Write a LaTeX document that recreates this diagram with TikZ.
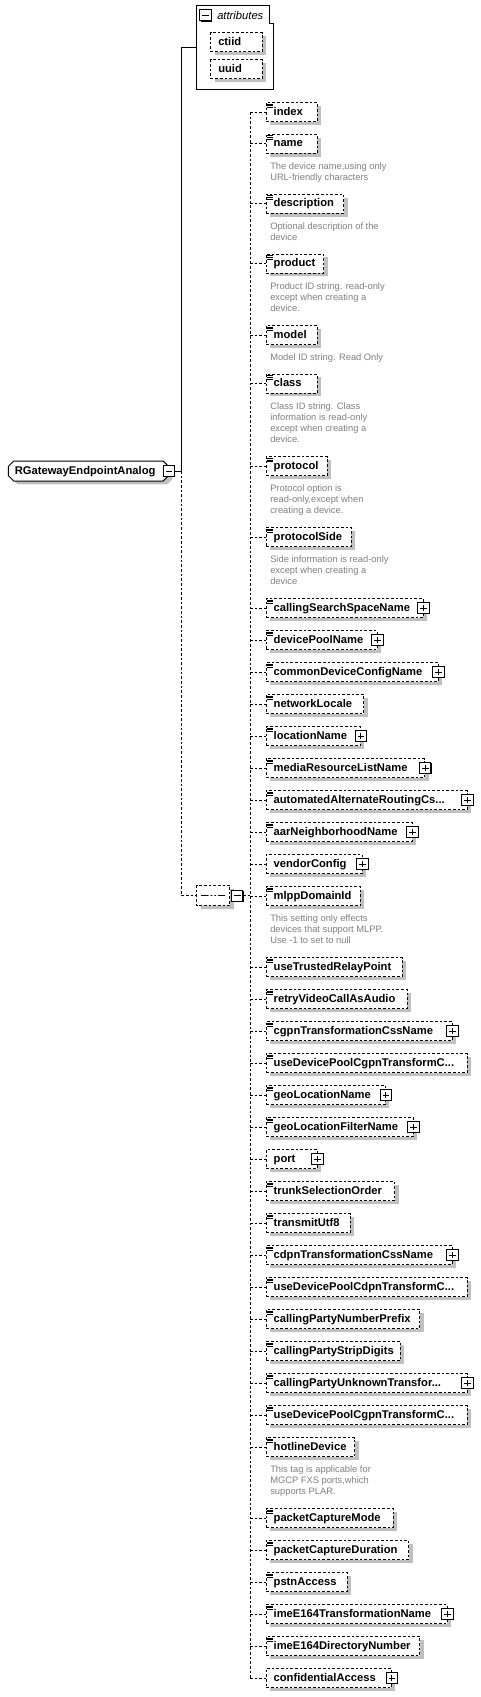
\documentclass[tikz,border=0pt]{standalone}
\usepackage{fontspec}
\setmainfont{Liberation Sans}
\usetikzlibrary{positioning, shapes.misc, shadows}
\definecolor{shadowgray}{RGB}{192,192,192}
\definecolor{docgray}{RGB}{128,128,128}
\newcommand{\elemfont}{\fontsize{8.4pt}{10pt}\selectfont\bfseries\hyphenpenalty=10000\relax}
\newcommand{\docfont}{\fontsize{7pt}{8.25pt}\selectfont}

\tikzset{
  elem/.style={draw, dash pattern=on 2pt off 1.5pt, line width=0.75pt, fill=white, anchor=west,
    minimum height=14.25pt, text width=(#1-15)*0.75pt, inner xsep=5.6pt, inner ysep=0pt,
    align=left, font=\elemfont, text height=6.2pt, text depth=1.6pt,
    general shadow={fill=shadowgray, shadow xshift=3pt, shadow yshift=-2.6pt}},
  typed/.style={path picture={
    \draw[solid, line width=0.55pt]
      ([xshift=0.8pt,yshift=-1.1pt]path picture bounding box.north west) -- ++(4.6pt,0)
      ([xshift=0.8pt,yshift=-2.4pt]path picture bounding box.north west) -- ++(4pt,0)
      ([xshift=0.8pt,yshift=-3.7pt]path picture bounding box.north west) -- ++(4pt,0);}},
  togglebox/.style={draw, solid, line width=0.75pt, fill=white, minimum size=8.5pt, inner sep=0pt,
    general shadow={fill=black, shadow xshift=0.6pt, shadow yshift=-0.6pt}},
  expander/.style={togglebox, path picture={
    \draw[line width=0.75pt]
      ([xshift=1.7pt]path picture bounding box.west) -- ([xshift=-1.7pt]path picture bounding box.east)
      ([yshift=-1.7pt]path picture bounding box.north) -- ([yshift=1.7pt]path picture bounding box.south);}},
  collapser/.style={togglebox, path picture={
    \draw[line width=0.75pt]
      ([xshift=1.7pt]path picture bounding box.west) -- ([xshift=-1.7pt]path picture bounding box.east);}},
  docnote/.style={anchor=north west, inner sep=0pt, align=left, font=\docfont, text=docgray},
  conn/.style={dash pattern=on 2pt off 1.5pt, line width=0.75pt},
  attrline/.style={line width=0.75pt},
  rootbox/.style={chamfered rectangle, chamfered rectangle xsep=2pt, chamfered rectangle ysep=2pt,
    draw, line width=0.75pt, fill=white, minimum height=15pt, text width=110.4pt,
    inner xsep=2.8pt, inner ysep=0pt, align=left, font=\elemfont, text height=6.2pt, text depth=1.6pt,
    general shadow={fill=shadowgray, shadow xshift=3pt, shadow yshift=-2.6pt}},
  seqbox/.style={chamfered rectangle, chamfered rectangle xsep=3.5pt, chamfered rectangle ysep=3.5pt,
    draw, dash pattern=on 2pt off 1.5pt, line width=0.75pt, fill=white,
    minimum width=25pt, minimum height=15pt, inner sep=0pt,
    general shadow={fill=shadowgray, shadow xshift=3pt, shadow yshift=-2.6pt},
    path picture={
      \draw[solid, line width=0.75pt] ([xshift=-9pt]path picture bounding box.center) -- ([xshift=9pt]path picture bounding box.center);
      \fill ([xshift=-2.8pt]path picture bounding box.center) circle (0.9pt)
        (path picture bounding box.center) circle (0.9pt)
        ([xshift=2.8pt]path picture bounding box.center) circle (0.9pt);}},
  grouplabel/.style={inner sep=0pt, font=\fontsize{8.4pt}{10pt}\selectfont\itshape}
}

\begin{document}
\begin{tikzpicture}[x=0.75pt, y=-0.75pt]
  \useasboundingbox (0,0) rectangle (481,1697);

  % attribute group
  \node[minimum width=57.75pt, minimum height=63pt, inner sep=0pt] (attrs) at (234.8,47.3) {};
  \draw[attrline] (attrs.south west) |- ([xshift=-3pt]attrs.north east) |- ([yshift=-13.5pt]attrs.north east) -- (attrs.south east) -- cycle;
  \node[collapser] (attrsMinus) at (205.5,15.2) {};
  \node[grouplabel, right=4pt of attrsMinus] (attrsLabel) {attributes};
  \node[elem=51.4] (ctiid) at (210.3,42) {ctiid};
  \node[elem=51.4] (uuid) at (210.3,69) {uuid};

  % root element
  \node[rootbox] (root) at (88.4,471) {RGatewayEndpointAnalog};
  \node[collapser] (rootMinus) at (root.east) {};
  \coordinate (split) at (181.3,471);

  % sequence
  \node[seqbox] (seq) at (213.3,895.7) {};
  \node[collapser, right=0.5pt of seq] (seqMinus) {};
  \coordinate (fork) at (250,895.7);

  % child elements
  \node[elem=51, typed] (index) at (265.7,112) {index};
  \node[elem=51, typed] (name) at (265.7,143.8) {name};
  \node[docnote] (nameDoc) at (270,162.2) {The device name,using only\\URL-friendly characters};
  \node[elem=77.6, typed] (description) at (265.7,203.7) {description};
  \node[docnote] (descriptionDoc) at (270,222.2) {Optional description of the\\device};
  \node[elem=57.6, typed] (product) at (265.7,263.5) {product};
  \node[docnote] (productDoc) at (270,282.5) {Product ID string. read-only\\except when creating a\\device.};
  \node[elem=51, typed] (model) at (265.7,335) {model};
  \node[docnote] (modelDoc) at (270,353.2) {Model ID string. Read Only};
  \node[elem=51, typed] (class) at (265.7,383.5) {class};
  \node[docnote] (classDoc) at (270,402.2) {Class ID string. Class\\information is read-only\\except when creating a\\device.};
  \node[elem=61, typed] (protocol) at (265.7,466.3) {protocol};
  \node[docnote] (protocolDoc) at (270,484.2) {Protocol option is\\read-only,except when\\creating a device.};
  \node[elem=85.3, typed] (protocolSide) at (265.7,537) {protocolSide};
  \node[docnote] (protocolSideDoc) at (270,555.2) {Side information is read-only\\except when creating a\\device};
  \node[elem=157, typed] (cssName) at (265.7,608) {callingSearchSpaceName};
  \node[elem=111, typed] (devicePool) at (265.7,640) {devicePoolName};
  \node[elem=172, typed] (commonConfig) at (265.7,672) {commonDeviceConfigName};
  \node[elem=97.6, typed] (netLocale) at (265.7,704) {networkLocale};
  \node[elem=94.3, typed] (location) at (265.7,736) {locationName};
  \node[elem=158.6, typed] (mrlName) at (265.7,768) {mediaResourceListName};
  \node[elem=201, typed] (aarCss) at (265.7,800) {automatedAlternateRoutingCs...};
  \node[elem=146, typed] (aarHood) at (265.7,832) {aarNeighborhoodName};
  \node[elem=96] (vendorConfig) at (265.7,864) {vendorConfig};
  \node[elem=94.3, typed] (mlpp) at (265.7,896) {mlppDomainId};
  \node[docnote] (mlppDoc) at (270,914.2) {This setting only effects\\devices that support MLPP.\\Use -1 to set to null};
  \node[elem=136, typed] (trustedRelay) at (265.7,967) {useTrustedRelayPoint};
  \node[elem=141, typed] (retryVideo) at (265.7,999) {retryVideoCallAsAudio};
  \node[elem=186, typed] (cgpnCss) at (265.7,1031) {cgpnTransformationCssName};
  \node[elem=201, typed] (useCgpnPoolA) at (265.7,1063) {useDevicePoolCgpnTransformC...};
  \node[elem=119.3, typed] (geoLoc) at (265.7,1095) {geoLocationName};
  \node[elem=147, typed] (geoFilter) at (265.7,1127) {geoLocationFilterName};
  \node[elem=51] (port) at (265.7,1159) {port};
  \node[elem=128.6, typed] (trunkOrder) at (265.7,1191) {trunkSelectionOrder};
  \node[elem=84.3, typed] (utf8) at (265.7,1223) {transmitUtf8};
  \node[elem=186, typed] (cdpnCss) at (265.7,1255) {cdpnTransformationCssName};
  \node[elem=201, typed] (useCdpnPool) at (265.7,1287) {useDevicePoolCdpnTransformC...};
  \node[elem=153.6, typed] (cgPrefix) at (265.7,1319) {callingPartyNumberPrefix};
  \node[elem=134.3, typed] (cgStrip) at (265.7,1351) {callingPartyStripDigits};
  \node[elem=201, typed] (cgUnknown) at (265.7,1383) {callingPartyUnknownTransfor...};
  \node[elem=201, typed] (useCgpnPoolB) at (265.7,1415) {useDevicePoolCgpnTransformC...};
  \node[elem=88.6, typed] (hotline) at (265.7,1447) {hotlineDevice};
  \node[docnote] (hotlineDoc) at (270,1465.5) {This tag is applicable for\\MGCP FXS ports,which\\supports PLAR.};
  \node[elem=127, typed] (captureMode) at (265.7,1518) {packetCaptureMode};
  \node[elem=142.6, typed] (captureDur) at (265.7,1550) {packetCaptureDuration};
  \node[elem=81, typed] (pstn) at (265.7,1582) {pstnAccess};
  \node[elem=181, typed] (imeTrans) at (265.7,1614) {imeE164TransformationName};
  \node[elem=153.6, typed] (imeDn) at (265.7,1646) {imeE164DirectoryNumber};
  \node[elem=125.3] (confAccess) at (265.7,1678) {confidentialAccess};

  % expand buttons
  \node[expander] (cssNamePlus) at (cssName.east) {};
  \node[expander] (devicePoolPlus) at (devicePool.east) {};
  \node[expander] (commonConfigPlus) at (commonConfig.east) {};
  \node[expander] (locationPlus) at (location.east) {};
  \node[expander] (mrlNamePlus) at (mrlName.east) {};
  \node[expander] (aarCssPlus) at (aarCss.east) {};
  \node[expander] (aarHoodPlus) at (aarHood.east) {};
  \node[expander] (vendorConfigPlus) at (vendorConfig.east) {};
  \node[expander] (cgpnCssPlus) at (cgpnCss.east) {};
  \node[expander] (geoLocPlus) at (geoLoc.east) {};
  \node[expander] (geoFilterPlus) at (geoFilter.east) {};
  \node[expander] (portPlus) at (port.east) {};
  \node[expander] (cdpnCssPlus) at (cdpnCss.east) {};
  \node[expander] (cgUnknownPlus) at (cgUnknown.east) {};
  \node[expander] (imeTransPlus) at (imeTrans.east) {};
  \node[expander] (confAccessPlus) at (confAccess.east) {};

  % connectors
  \draw[attrline] (rootMinus.east) -- (split) |- (attrs.west);
  \draw[conn] (split) |- (seq.west);
  \draw[conn] (seqMinus.east) -- (fork);
  \draw[conn] (fork |- index.west) -- (fork |- confAccess.west);
  \draw[conn] (fork |- index.west) -- (index.west) (fork |- name.west) -- (name.west)
    (fork |- description.west) -- (description.west) (fork |- product.west) -- (product.west)
    (fork |- model.west) -- (model.west) (fork |- class.west) -- (class.west)
    (fork |- protocol.west) -- (protocol.west) (fork |- protocolSide.west) -- (protocolSide.west)
    (fork |- cssName.west) -- (cssName.west) (fork |- devicePool.west) -- (devicePool.west)
    (fork |- commonConfig.west) -- (commonConfig.west) (fork |- netLocale.west) -- (netLocale.west)
    (fork |- location.west) -- (location.west) (fork |- mrlName.west) -- (mrlName.west)
    (fork |- aarCss.west) -- (aarCss.west) (fork |- aarHood.west) -- (aarHood.west)
    (fork |- vendorConfig.west) -- (vendorConfig.west) (fork |- mlpp.west) -- (mlpp.west)
    (fork |- trustedRelay.west) -- (trustedRelay.west) (fork |- retryVideo.west) -- (retryVideo.west)
    (fork |- cgpnCss.west) -- (cgpnCss.west) (fork |- useCgpnPoolA.west) -- (useCgpnPoolA.west)
    (fork |- geoLoc.west) -- (geoLoc.west) (fork |- geoFilter.west) -- (geoFilter.west)
    (fork |- port.west) -- (port.west) (fork |- trunkOrder.west) -- (trunkOrder.west)
    (fork |- utf8.west) -- (utf8.west) (fork |- cdpnCss.west) -- (cdpnCss.west)
    (fork |- useCdpnPool.west) -- (useCdpnPool.west) (fork |- cgPrefix.west) -- (cgPrefix.west)
    (fork |- cgStrip.west) -- (cgStrip.west) (fork |- cgUnknown.west) -- (cgUnknown.west)
    (fork |- useCgpnPoolB.west) -- (useCgpnPoolB.west) (fork |- hotline.west) -- (hotline.west)
    (fork |- captureMode.west) -- (captureMode.west) (fork |- captureDur.west) -- (captureDur.west)
    (fork |- pstn.west) -- (pstn.west) (fork |- imeTrans.west) -- (imeTrans.west)
    (fork |- imeDn.west) -- (imeDn.west) (fork |- confAccess.west) -- (confAccess.west);
\end{tikzpicture}
\end{document}
